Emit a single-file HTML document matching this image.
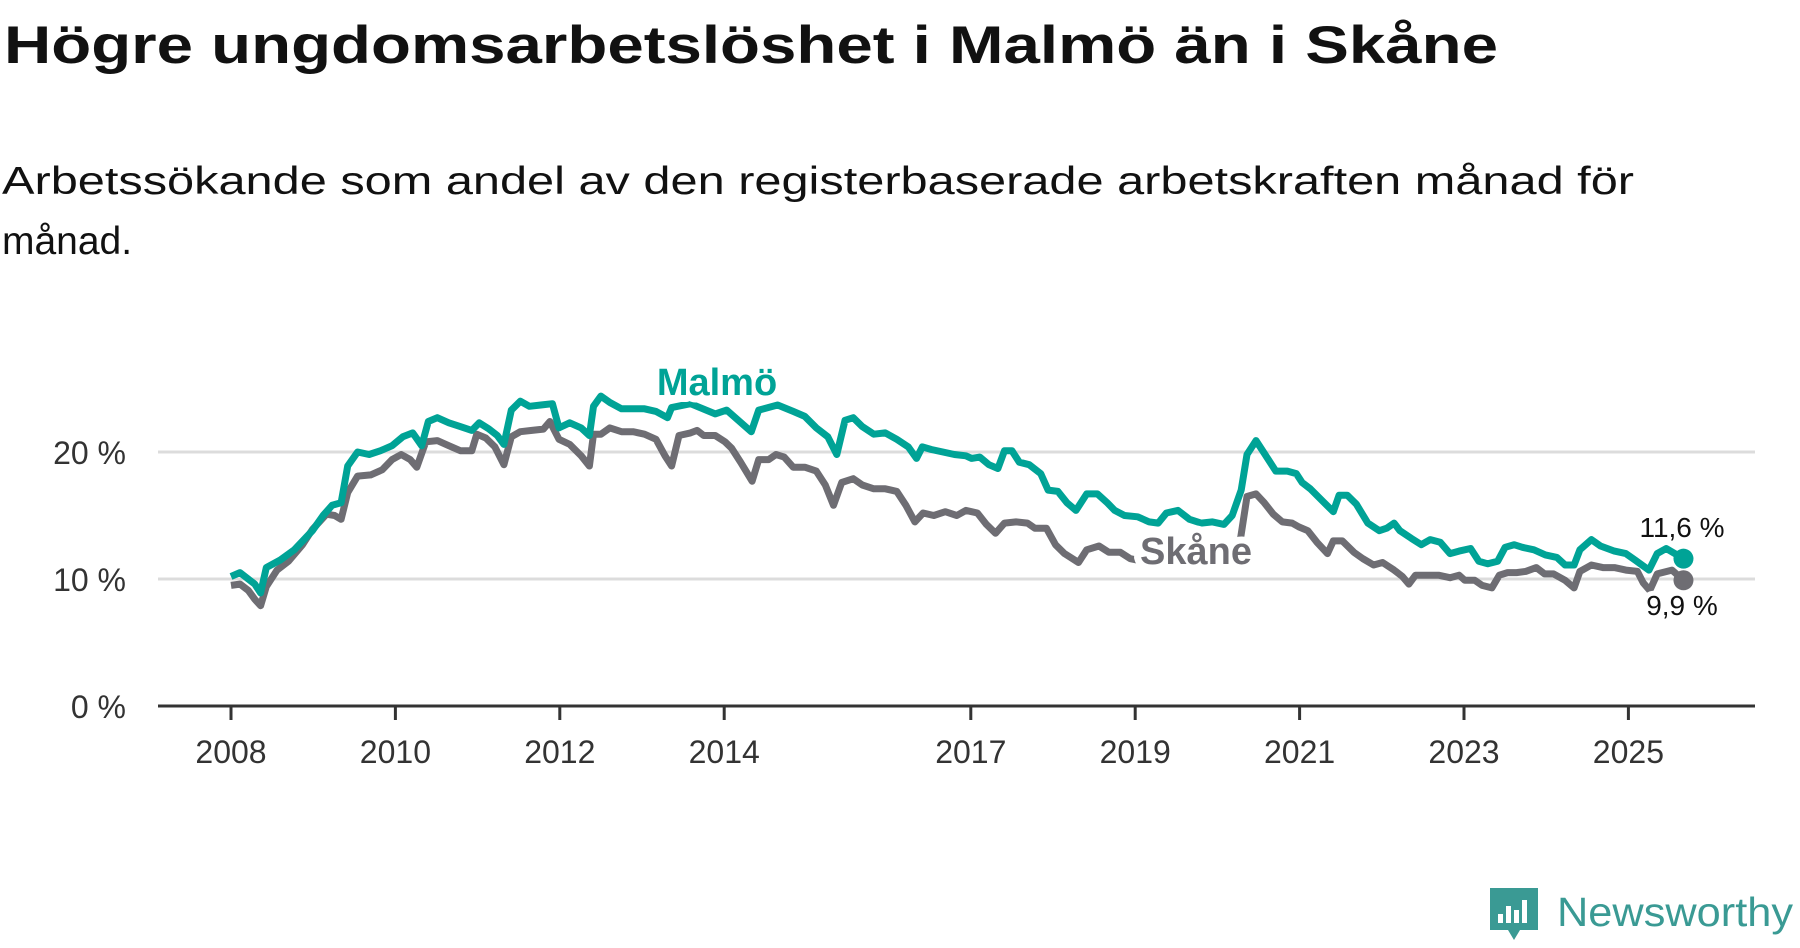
<!DOCTYPE html>
<html><head><meta charset="utf-8">
<style>
html,body{margin:0;padding:0;background:#fff;}
svg{display:block;font-family:"Liberation Sans","DejaVu Sans",sans-serif;}
</style></head>
<body>
<svg width="1800" height="948" viewBox="0 0 1800 948">
<text x="4" y="63" font-size="53" font-weight="bold" fill="#111" textLength="1494" lengthAdjust="spacingAndGlyphs">Högre ungdomsarbetslöshet i Malmö än i Skåne</text>
<text x="2" y="194" font-size="39" fill="#111" textLength="1632" lengthAdjust="spacingAndGlyphs">Arbetssökande som andel av den registerbaserade arbetskraften månad för</text>
<text x="2" y="254" font-size="39" fill="#111">månad.</text>
<g id="grid"></g>
<g id="axes"></g>
<g id="lines"></g>
<g id="labels"></g>
<g>
  <path d="M1490 888 h48 v42 h-18 l-6 10 l-6 -10 h-18 z" fill="#3a9a94"/>
  <rect x="1498" y="914" width="5" height="9" fill="#fff"/>
  <rect x="1506" y="906" width="5" height="17" fill="#fff"/>
  <rect x="1514" y="910" width="5" height="13" fill="#fff"/>
  <rect x="1522" y="900" width="5" height="23" fill="#fff"/>
  <text x="1557" y="926" font-size="41" fill="#3a9a94" textLength="236" lengthAdjust="spacingAndGlyphs">Newsworthy</text>
</g>
</svg>
<script>
const yTicks=[0,10,20];
const yTickLabels=["0 %","10 %","20 %"];
const xTicks=[2008,2010,2012,2014,2017,2019,2021,2023,2025];
const xTickLabels=["2008","2010","2012","2014","2017","2019","2021","2023","2025"];
const malmoT=[0,0.11,0.29,0.36,0.43,0.60,0.77,0.99,1.12,1.23,1.34,1.42,1.54,1.68,1.82,1.96,2.09,2.21,2.32,2.40,2.51,2.65,2.79,2.93,3.02,3.14,3.24,3.32,3.41,3.52,3.63,3.77,3.91,3.99,4.12,4.26,4.36,4.41,4.50,4.61,4.75,4.89,5.03,5.17,5.31,5.36,5.59,5.89,6.03,6.33,6.42,6.65,6.84,6.98,7.12,7.26,7.37,7.47,7.57,7.68,7.82,7.96,8.10,8.24,8.34,8.41,8.52,8.66,8.80,8.94,9.01,9.11,9.22,9.33,9.41,9.50,9.59,9.71,9.85,9.94,10.06,10.17,10.28,10.41,10.54,10.66,10.75,10.87,11.03,11.17,11.28,11.38,11.52,11.66,11.80,11.94,12.08,12.18,12.29,12.36,12.47,12.57,12.71,12.85,12.96,13.03,13.13,13.27,13.41,13.48,13.58,13.69,13.83,13.97,14.06,14.15,14.22,14.36,14.48,14.59,14.71,14.83,14.94,15.08,15.18,15.29,15.41,15.50,15.61,15.71,15.85,15.99,16.13,16.23,16.34,16.41,16.55,16.66,16.83,16.97,17.08,17.25,17.35,17.46,17.67];
const malmoV=[10.2,10.5,9.6,8.9,10.9,11.5,12.3,13.8,15.0,15.8,16.0,18.9,20.0,19.8,20.1,20.5,21.2,21.5,20.5,22.4,22.7,22.3,22.0,21.7,22.3,21.8,21.3,20.6,23.3,24.0,23.6,23.7,23.8,21.9,22.3,21.9,21.3,23.6,24.4,23.9,23.4,23.4,23.4,23.2,22.7,23.5,23.8,23.0,23.3,21.6,23.3,23.7,23.2,22.8,21.9,21.2,19.8,22.5,22.7,22.0,21.4,21.5,21.0,20.4,19.5,20.4,20.2,20.0,19.8,19.7,19.5,19.6,19.0,18.7,20.1,20.1,19.2,19.0,18.3,17.0,16.9,16.0,15.4,16.7,16.7,16.0,15.4,15.0,14.9,14.5,14.4,15.2,15.4,14.7,14.4,14.5,14.3,15.0,17.0,19.8,20.9,19.9,18.5,18.5,18.3,17.6,17.1,16.2,15.3,16.6,16.6,15.9,14.4,13.8,14.0,14.4,13.8,13.2,12.7,13.1,12.9,12.0,12.2,12.4,11.4,11.2,11.4,12.5,12.7,12.5,12.3,11.9,11.7,11.1,11.1,12.3,13.1,12.6,12.2,12.0,11.5,10.7,12.0,12.4,11.6];
const skaneT=[0,0.11,0.21,0.29,0.36,0.43,0.56,0.70,0.87,0.99,1.16,1.26,1.34,1.42,1.54,1.70,1.84,1.96,2.07,2.18,2.26,2.37,2.51,2.65,2.79,2.93,2.99,3.10,3.21,3.32,3.41,3.52,3.66,3.80,3.88,3.99,4.12,4.26,4.36,4.41,4.50,4.61,4.75,4.89,5.03,5.17,5.28,5.36,5.45,5.59,5.67,5.75,5.89,6.01,6.09,6.20,6.34,6.42,6.54,6.63,6.73,6.84,6.98,7.12,7.23,7.33,7.43,7.57,7.68,7.82,7.96,8.10,8.21,8.32,8.42,8.55,8.69,8.83,8.94,9.08,9.19,9.30,9.41,9.55,9.69,9.78,9.92,10.03,10.14,10.31,10.41,10.56,10.68,10.82,10.94,11.40,11.80,12.26,12.36,12.47,12.57,12.68,12.79,12.91,12.99,13.10,13.21,13.34,13.41,13.52,13.66,13.77,13.90,14.01,14.15,14.25,14.33,14.41,14.53,14.69,14.83,14.94,15.01,15.13,15.22,15.34,15.43,15.53,15.64,15.75,15.88,15.98,16.09,16.23,16.34,16.41,16.55,16.69,16.83,16.97,17.11,17.18,17.26,17.35,17.53,17.67];
const skaneV=[9.5,9.6,9.1,8.4,7.9,9.4,10.7,11.4,12.7,13.9,15.1,15.0,14.7,16.8,18.1,18.2,18.6,19.4,19.8,19.4,18.8,20.8,20.9,20.5,20.1,20.1,21.4,21.1,20.4,19.0,21.2,21.6,21.7,21.8,22.4,21.0,20.6,19.7,18.9,21.4,21.4,21.9,21.6,21.6,21.4,21.0,19.7,18.9,21.3,21.5,21.7,21.3,21.3,20.8,20.3,19.2,17.7,19.4,19.4,19.8,19.6,18.8,18.8,18.5,17.4,15.8,17.6,17.9,17.4,17.1,17.1,16.9,15.8,14.5,15.2,15.0,15.3,15.0,15.4,15.2,14.3,13.6,14.4,14.5,14.4,14.0,14.0,12.7,12.0,11.3,12.3,12.6,12.1,12.1,11.6,11.0,11.5,12.3,16.5,16.7,16.0,15.1,14.5,14.4,14.1,13.8,12.9,12.0,13.0,13.0,12.1,11.6,11.1,11.3,10.7,10.2,9.6,10.3,10.3,10.3,10.1,10.3,9.9,9.9,9.5,9.3,10.3,10.5,10.5,10.6,10.9,10.4,10.4,9.9,9.3,10.6,11.1,10.9,10.9,10.7,10.6,9.7,9.1,10.4,10.7,9.9];

const NS='http://www.w3.org/2000/svg';
const X0=158,X1=1755;
function xs(t){return 231+t*82.2;}
function xy(year){return 231+(year-2008)*82.2;}
function ys(v){return 706-v*12.7;}
function mk(tag,attrs,parent){const e=document.createElementNS(NS,tag);for(const k in attrs)e.setAttribute(k,attrs[k]);parent.appendChild(e);return e;}
const grid=document.getElementById('grid'),axes=document.getElementById('axes'),lines=document.getElementById('lines'),labels=document.getElementById('labels');
yTicks.forEach((v,i)=>{
  if(v>0){const g=mk('line',{x1:X0,x2:X1,y1:ys(v),y2:ys(v),stroke:'#dcdcdc','stroke-width':3},grid);
  
  }
  const t=mk('text',{x:126,y:ys(v)+12,'text-anchor':'end','font-size':32,fill:'#333'},axes);
  t.textContent=yTickLabels[i];
  
  
});
const ax=mk('line',{x1:X0,x2:X1,y1:706,y2:706,stroke:'#333','stroke-width':3},axes);


xTicks.forEach((yr,i)=>{
  const tk=mk('line',{x1:xy(yr),x2:xy(yr),y1:706,y2:720,stroke:'#333','stroke-width':3},axes);
  
  
  const t=mk('text',{x:xy(yr),y:763,'text-anchor':'middle','font-size':32,fill:'#333'},axes);
  t.textContent=xTickLabels[i];
  
  
});
function path(T,V){return T.map((t,i)=>(i?'L':'M')+xs(t).toFixed(1)+' '+ys(V[i]).toFixed(1)).join(' ');}
const sk=mk('path',{d:path(skaneT,skaneV),fill:'none',stroke:'#6e6d73','stroke-width':7,'stroke-linejoin':'round'},lines);


const ma=mk('path',{d:path(malmoT,malmoV),fill:'none',stroke:'#00a396','stroke-width':7,'stroke-linejoin':'round'},lines);


const sl=skaneT.length-1,ml=malmoT.length-1;
const d1=mk('circle',{cx:xs(skaneT[sl]),cy:ys(skaneV[sl]),r:10,fill:'#6e6d73'},lines);


const d2=mk('circle',{cx:xs(malmoT[ml]),cy:ys(malmoV[ml]),r:10,fill:'#00a396'},lines);


function lbl(txt,x,y,size,col,bold,name,sw){
  const t=mk('text',{x:x,y:y,'text-anchor':'middle','font-size':size,fill:col,'font-weight':bold?'bold':'normal',stroke:'#fff','stroke-width':sw,'paint-order':'stroke','stroke-linejoin':'round'},labels);
  t.textContent=txt;
  
  
}
lbl('Malmö',717,395,38,'#00a396',true,'malmo-series-label',14);
lbl('Skåne',1196,564,38,'#6e6d73',true,'skane-series-label',14);
lbl('11,6 %',1682,537,28,'#111',false,'malmo-end-value',10);
lbl('9,9 %',1682,615,28,'#111',false,'skane-end-value',10);
</script>
</body></html>
